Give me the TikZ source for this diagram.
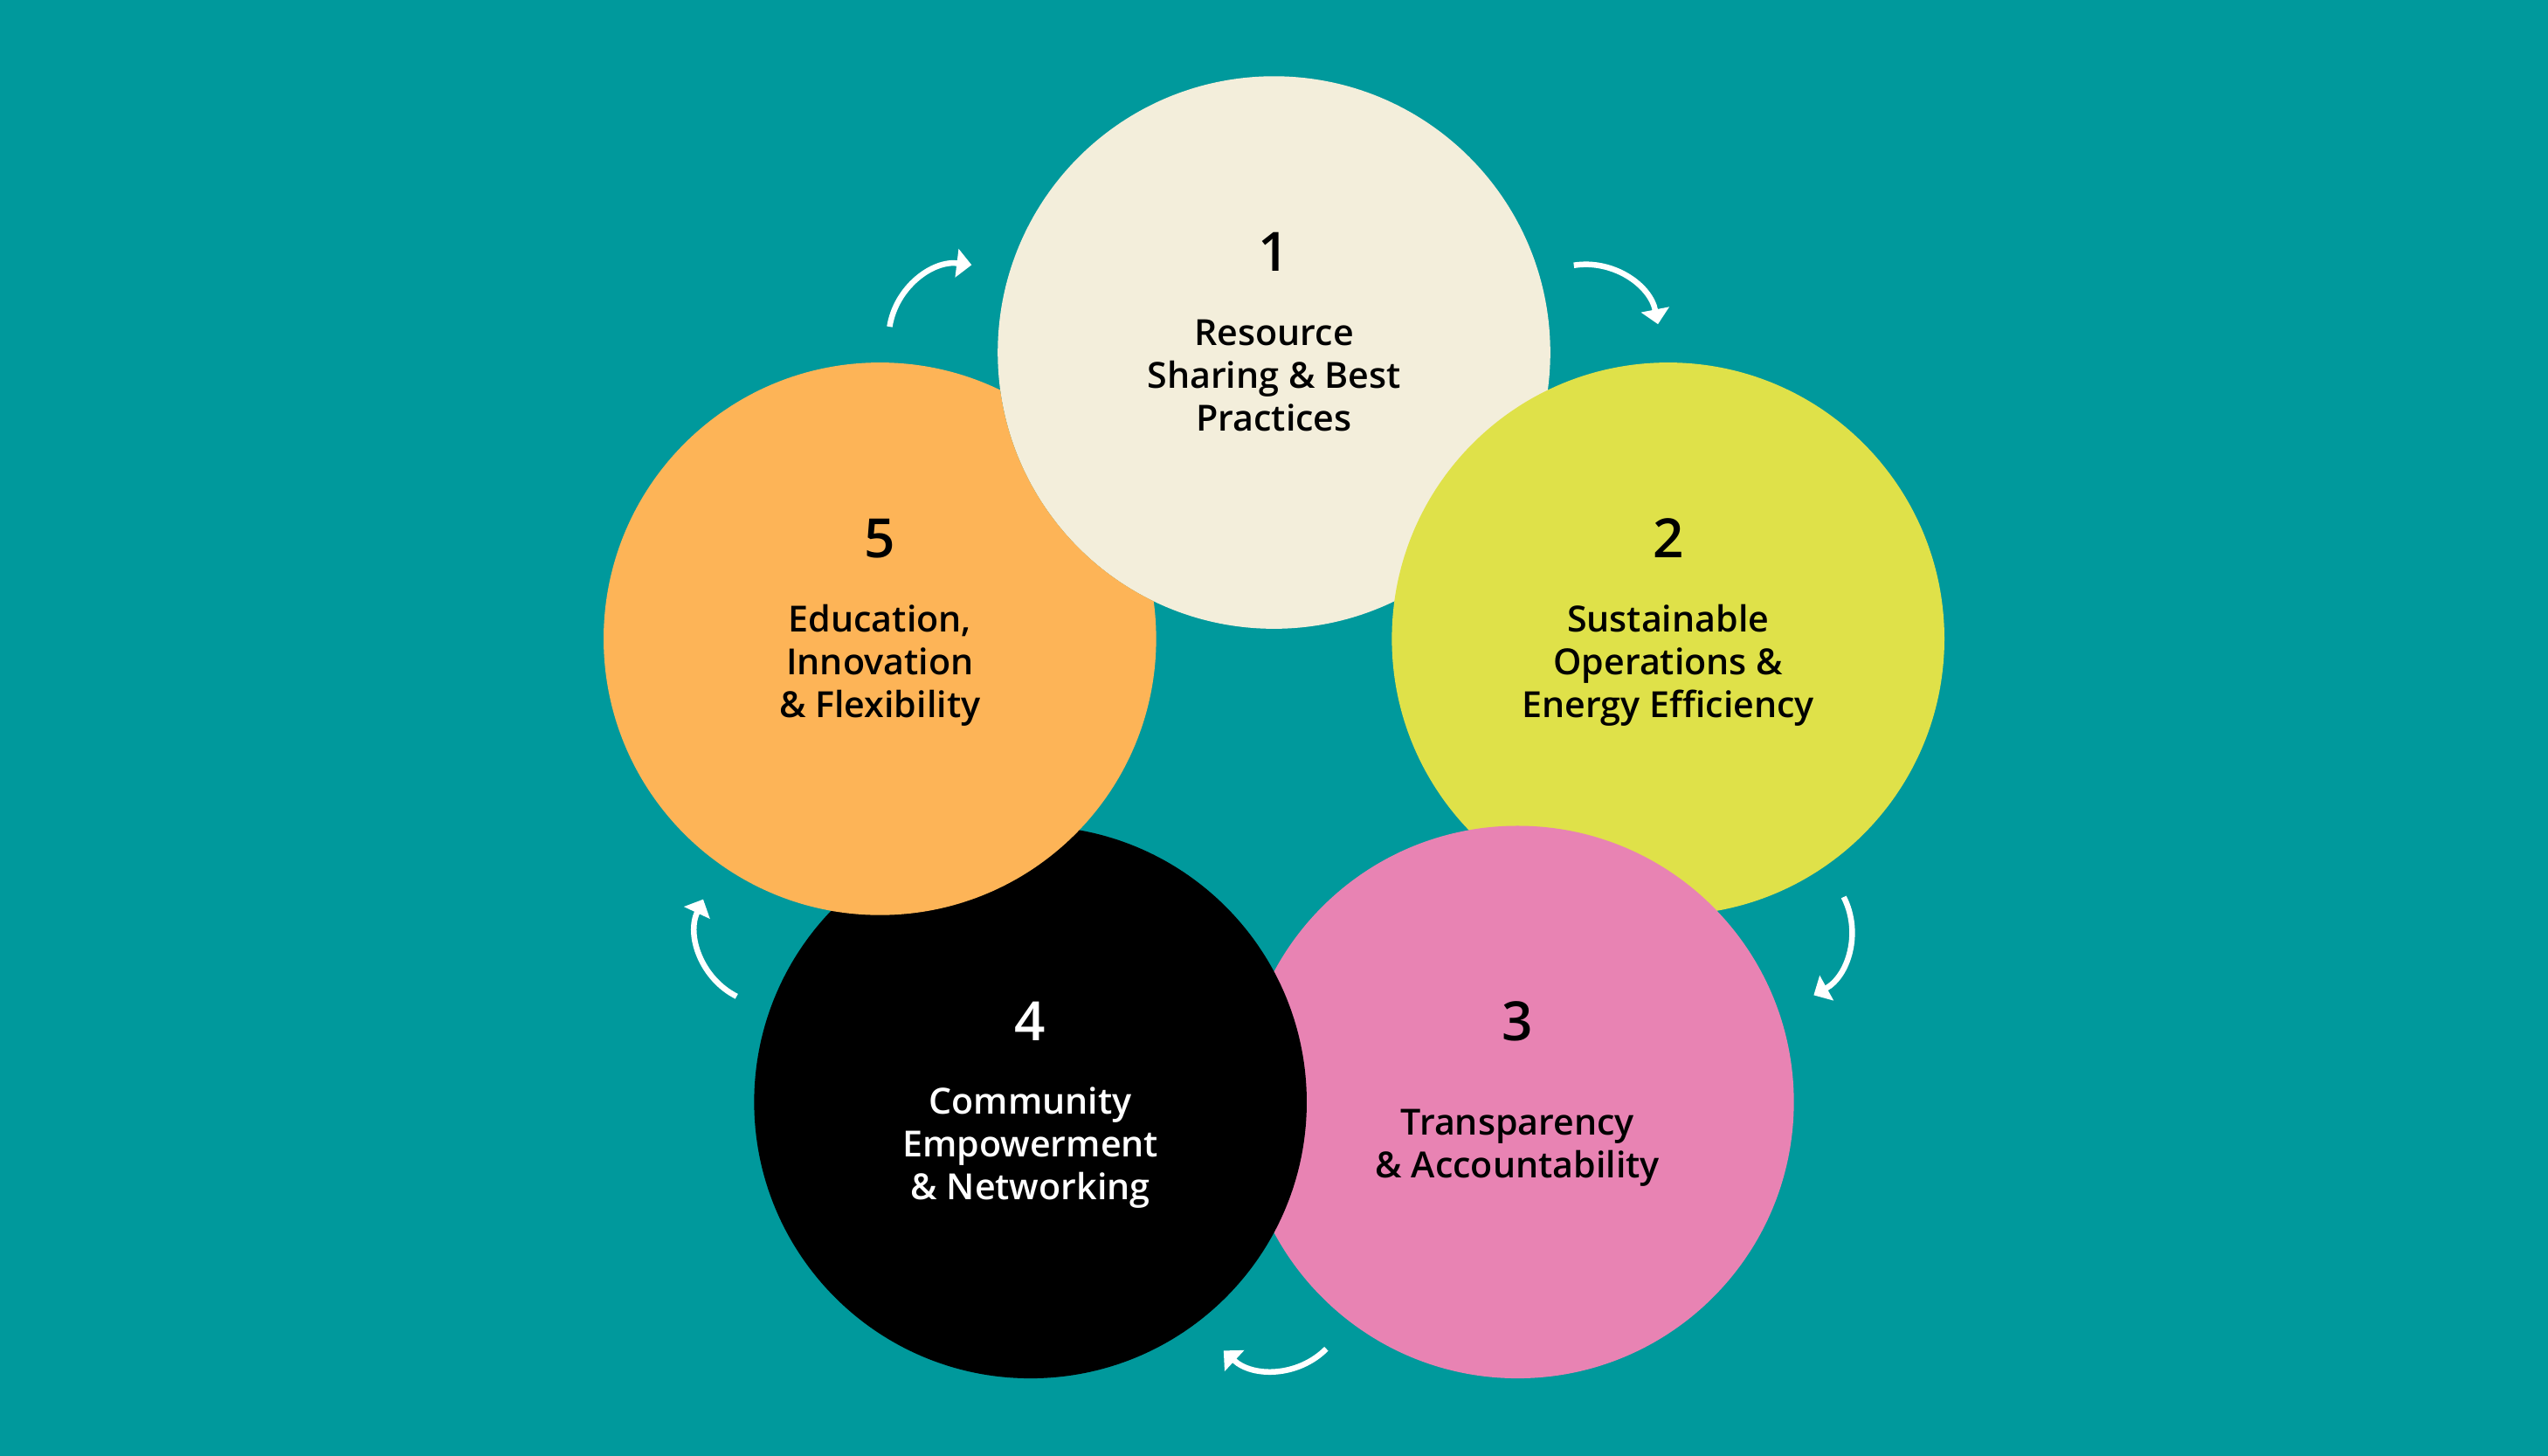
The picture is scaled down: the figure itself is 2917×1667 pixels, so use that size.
\documentclass[tikz,border=0pt]{standalone}
\usepackage{fontspec}
\IfFontExistsTF{Open Sans SemiBold}{\newfontfamily\labfont{Open Sans SemiBold}}{%
 \IfFontExistsTF{Open Sans Semibold}{\newfontfamily\labfont{Open Sans Semibold}}{%
  \newfontfamily\labfont{Open Sans}[FakeBold=1.2]}}
\usetikzlibrary{arrows.meta,calc}
\definecolor{bgteal}{HTML}{00999C}
\definecolor{ccream}{HTML}{F3EEDB}
\definecolor{cgreen}{HTML}{DFE149}
\definecolor{cpink}{HTML}{E883B3}
\definecolor{corange}{HTML}{FDB457}
\begin{document}
\begin{tikzpicture}[x=1pt,y=1pt,
  disc/.style={circle,minimum size=632.6pt,inner sep=0pt,draw=none},
  num/.style={font=\labfont\fontsize{62}{70}\selectfont,anchor=base,inner sep=0pt},
  lab/.style={font=\labfont\fontsize{41.2}{49}\selectfont,align=center,inner sep=0pt},
  arr/.style={draw=white,line width=6.5pt,-{Triangle[length=17pt,width=32pt]}}]
\fill[bgteal] (0,0) rectangle (2917,1667);
\coordinate (C) at (1458.5,789);
\node[disc,fill=ccream]  (c1) at ($(C)+(90:474.4)$) {};
\node[disc,fill=cgreen]  (c2) at ($(C)+(18:474.4)$) {};
\node[disc,fill=cpink]   (c3) at ($(C)+(-54:474.4)$) {};
\node[disc,fill=black]   (c4) at ($(C)+(-126:474.4)$) {};
\begin{scope}
  % everything except circle 1 (opposite windings, nonzero rule)
  \clip (0,0) -- (0,1667) -- (2917,1667) -- (2917,0) -- cycle
        (c1.center) circle[radius=316.3];
  \node[disc,fill=corange] (c5) at ($(C)+(162:474.4)$) {};
\end{scope}
% numbers
\node[num] (n1) at ($(c1.center)+(0,93)$) {1};
\node[num] (n2) at ($(c2.center)+(0,93)$) {2};
\node[num] (n3) at ($(c3.center)+(0,70.7)$) {3};
\node[num,text=white] (n4) at ($(c4.center)+(0,70.7)$) {4};
\node[num] (n5) at ($(c5.center)+(0,93)$) {5};
% labels
\node[lab] (t1) at ($(c1.center)+(0,-26)$) {Resource\\Sharing \& Best\\Practices};
\node[lab] (t2) at ($(c2.center)+(0,-30)$) {Sustainable\\Operations \&\\Energy Efficiency};
\node[lab] (t3) at ($(c3.center)+(0,-52)$) {Transparency\\\& Accountability};
\node[lab,text=white] (t4) at ($(c4.center)+(0,-52)$) {Community\\Empowerment\\\& Networking};
\node[lab] (t5) at ($(c5.center)+(0,-30)$) {Education,\\Innovation\\\& Flexibility};
% arrows
\foreach \a [count=\i] in {126,54,-18,-90,-162} {
  \coordinate (a\i) at ($(C)+(\a:606.5)+({\a+45}:84.6)$);
  \draw[arr] (a\i) arc[start angle=\a+45, end angle=\a-43, radius=84.6];
}
\end{tikzpicture}
\end{document}
